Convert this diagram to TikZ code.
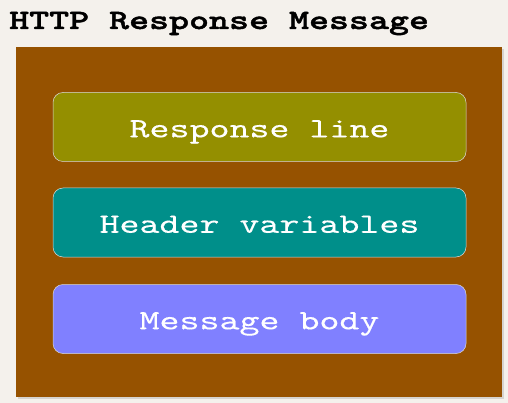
\documentclass[tikz,border=0pt]{standalone}
\usepackage{fontspec}
\newfontfamily\boxfont[FakeStretch=1.36,FakeBold=0.3]{lmmono10-regular.otf}
\newfontfamily\titlefont[FakeStretch=1.36,FakeBold=1.5]{lmmonolt10-bold.otf}
\usetikzlibrary{positioning, shadows}

\definecolor{paper}{RGB}{244,241,236}
\definecolor{frame}{RGB}{150,82,0}
\definecolor{olive}{RGB}{148,143,0}
\definecolor{teal}{RGB}{0,143,138}
\definecolor{peri}{RGB}{128,128,255}

\begin{document}
\begin{tikzpicture}[
    x=1pt, y=-1pt,
    b/.style={rectangle, draw=white!70!gray, line width=0.5pt, rounded corners=10pt, minimum width=413pt, minimum height=69pt, text height=20.6pt, text depth=0pt, font=\boxfont\fontsize{28}{32}\selectfont, text=white, inner sep=0pt},
    f/.style={rectangle, fill=frame, minimum width=486pt, minimum height=350pt, inner sep=0pt, drop shadow={opacity=0.25, shadow xshift=2pt, shadow yshift=-2pt}},
]
\fill[paper] (0,0) rectangle (508,403);
\useasboundingbox (0,0) rectangle (508,403);

\node[anchor=base west, inner sep=0pt, font=\titlefont\fontsize{28}{32}\selectfont] (title) at (9,29) {HTTP Response Message};

\node[f] (msg) at (259,222) {};

\node[b, fill=olive] (resp) at (259.5,127) {Response line};
\node[b, fill=teal, below=26pt of resp] (head) {Header variables};
\node[b, fill=peri, below=27pt of head] (body) {Message body};
\end{tikzpicture}
\end{document}
